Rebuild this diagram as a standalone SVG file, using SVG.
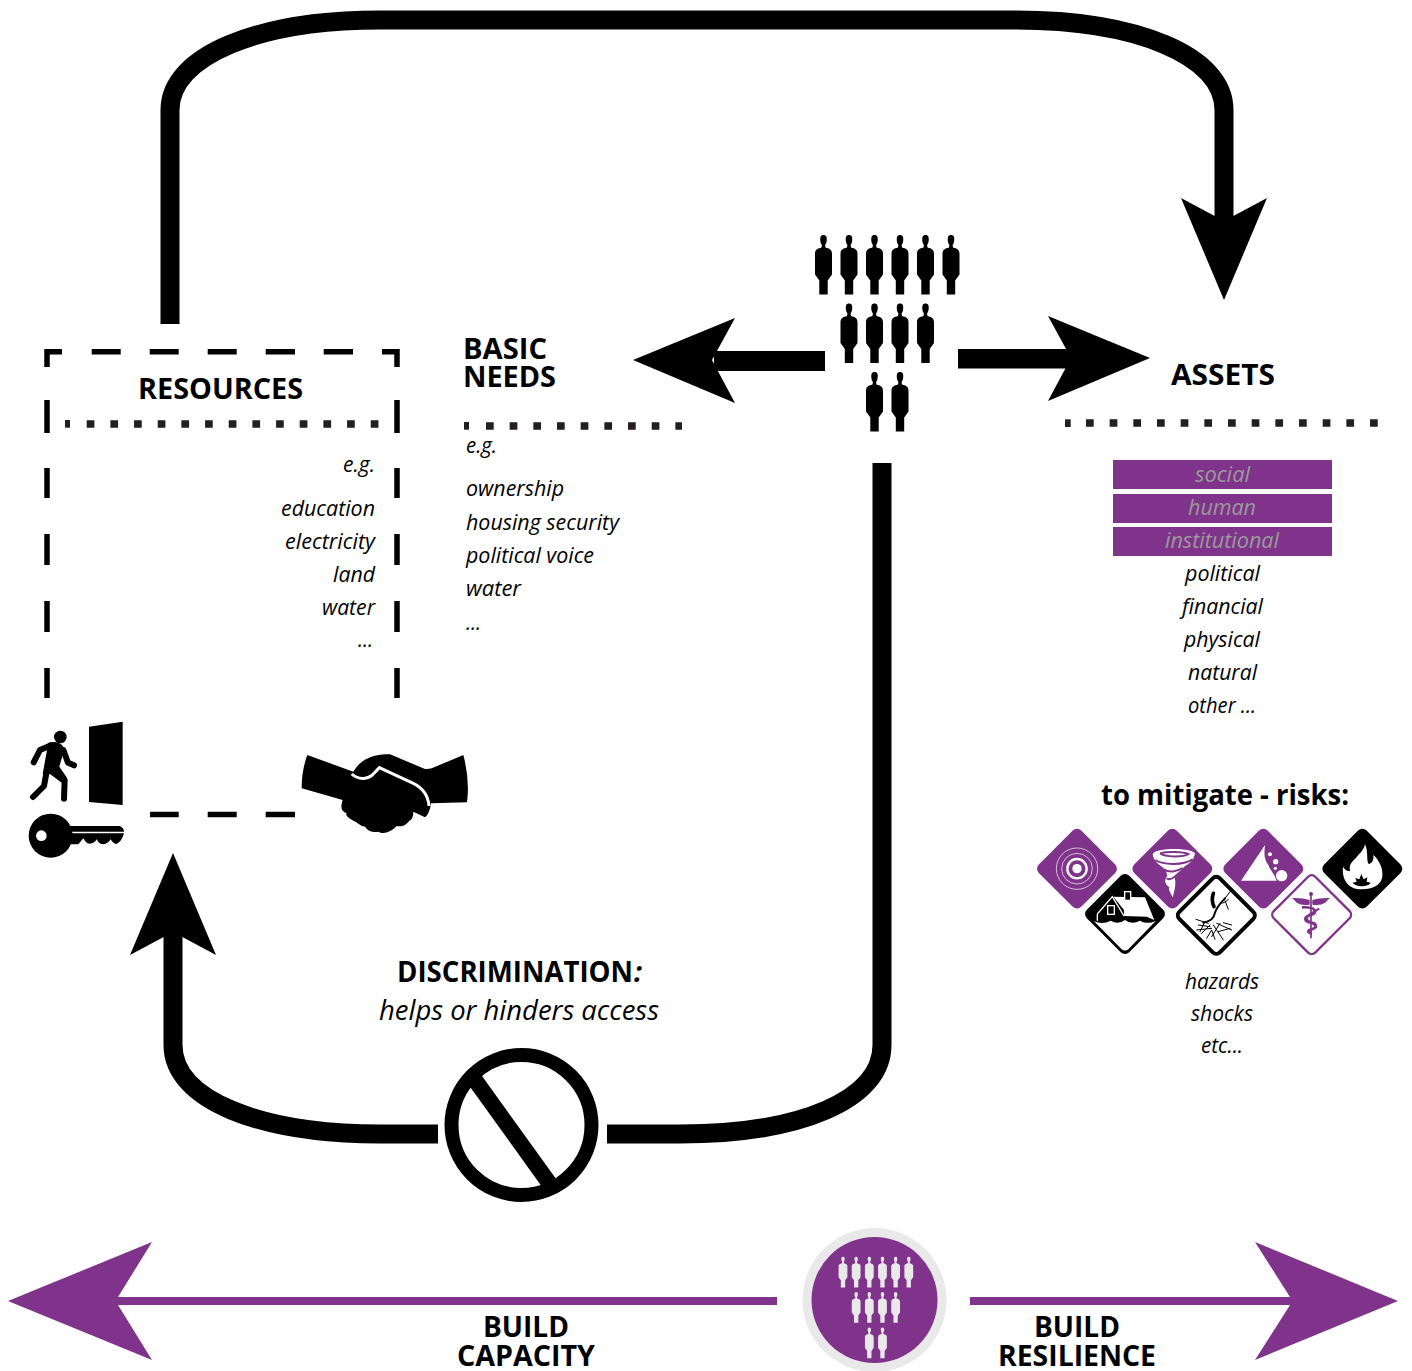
<svg xmlns="http://www.w3.org/2000/svg" width="1412" height="1371" viewBox="0 0 1412 1371">
<style>
text{font-family:"Open Sans","Liberation Sans",sans-serif;fill:#000}
.h{font-weight:700;font-size:28px}
.i{font-style:italic;font-size:21px}
.g{fill:#9a9a9a}
.big{font-weight:700;font-size:28px}
.conn{fill:none;stroke:#000;stroke-width:19}
.pconn{fill:#80338a;stroke:none}
.d{fill:none;stroke:#000;stroke-width:5.5}
.dot{fill:none;stroke:#231f20;stroke-width:7.7;stroke-dasharray:7.7 15.97}
</style>
<defs>
<path id="p" d="M-1.6,10.5 C-3.5,8 -3.6,4 -2.8,2 C-2,0 2,0 2.8,2 C3.6,4 3.5,8 1.6,10.5 L2,13 C6,14 8.3,15 8.5,19 L8.5,40 L4.2,46 L4.2,60 L-4.2,60 L-4.2,46 L-8.5,40 L-8.5,19 C-8.3,15 -6,14 -2,13 Z"/>
<g id="people">
<use href="#p" x="0" y="0"/><use href="#p" x="25.5" y="0"/><use href="#p" x="51" y="0"/><use href="#p" x="76.5" y="0"/><use href="#p" x="102" y="0"/><use href="#p" x="127.5" y="0"/>
<use href="#p" x="25.5" y="68.5"/><use href="#p" x="51" y="68.5"/><use href="#p" x="76.5" y="68.5"/><use href="#p" x="102" y="68.5"/>
<use href="#p" x="51" y="137"/><use href="#p" x="76.5" y="137"/>
</g>
</defs>
<rect width="1412" height="1371" fill="#fff"/>

<g id="connectors">
<path class="conn" d="M170,324 V110 C170,55 260,20 380,20 H1015 C1135,20 1224,55 1224,110 V225"/>
<polygon fill="#000" points="1181,198 1224,300 1267,198 1224,221"/>
<path class="conn" d="M882,463 V1045 C882,1100 800,1134 680,1134 H607"/>
<path class="conn" d="M438,1134 H380 C260,1134 173,1100 173,1045 V930"/>
<polygon fill="#000" points="130,955 173,853 216,955 173,932"/>
<rect x="714" y="351" width="111" height="20" fill="#000"/>
<polygon fill="#000" points="735,318 633,360 735,403 712,360"/>
<rect x="958" y="349" width="115" height="19.500" fill="#000"/>
<polygon fill="#000" points="1048,316 1150,358 1048,401 1071,358"/>
<polygon class="pconn" points="777,1297 118,1297 152,1242 8,1301 152,1360 118,1305 777,1305"/>
<polygon class="pconn" points="970,1297 1290,1297 1255,1242 1398,1301 1255,1360 1290,1305 970,1305"/>
</g>

<g id="resources">
<path class="d" d="M62,351.700 H47 V367"/>
<path class="d" d="M91.700,351.700 H120.700 M149.700,351.700 H178.700 M207.700,351.700 H236.700 M265.700,351.700 H295 M323.700,351.700 H353"/>
<path class="d" d="M382,351.700 H397 V367"/>
<path class="d" d="M47,400 V433 M47,468 V498 M47,534 V565 M47,601 V632 M47,668 V698"/>
<path class="d" d="M397,400 V433 M397,468 V498 M397,534 V565 M397,601 V632 M397,668 V698"/>
<path class="d" d="M150,814.500 H178.700 M207.700,814.500 H236.700 M265.700,814.500 H295"/>
<path fill="#231f20" d="M65,420 H70 V427.700 H65 Z"/>
<path class="dot" d="M86.700,424 H380"/>
<text class="h" x="138" y="399" textLength="165" lengthAdjust="spacingAndGlyphs">RESOURCES</text>
<text class="i" x="343" y="472" textLength="32" lengthAdjust="spacingAndGlyphs">e.g.</text>
<text class="i" x="281" y="516" textLength="94" lengthAdjust="spacingAndGlyphs">education</text>
<text class="i" x="285" y="549" textLength="90" lengthAdjust="spacingAndGlyphs">electricity</text>
<text class="i" x="333" y="582" textLength="42" lengthAdjust="spacingAndGlyphs">land</text>
<text class="i" x="322" y="615" textLength="53" lengthAdjust="spacingAndGlyphs">water</text>
<text class="i" x="358" y="647" textLength="15" lengthAdjust="spacingAndGlyphs">...</text>
</g>

<g id="access-icons" transform="translate(0,700) scale(0.33333)">
<polygon points="267,80 368,65 368,315 267,306" fill="#000"/>
<circle cx="181" cy="111" r="19" fill="#000"/>
<path fill="#000" d="M145,128 C165,122 188,128 193,148 L178,200 L200,232 L185,248 L150,222 L128,222 Z"/>
<path fill="none" stroke="#000" stroke-width="18" stroke-linecap="round" stroke-linejoin="round" d="M150,137 L120,150 L101,187 M190,150 L204,188 L222,196 M165,215 L194,240 L192,296 M140,215 L132,258 L99,291"/>
<circle cx="152" cy="407" r="66" fill="#000"/>
<circle cx="124" cy="407" r="16" fill="#fff"/>
<path fill="#000" d="M200,378 H360 Q372,385 372,395 H215 Z M205,400 H372 Q365,425 350,432 Q338,430 332,418 Q322,435 305,432 Q296,430 290,418 Q280,435 262,430 Q255,425 250,415 L235,433 L205,433 Z"/>
<path fill="#000" d="M922,165 L1060,215 C1080,180 1120,160 1170,163 L1275,207 Q1285,208 1295,205 L1390,165 Q1410,240 1401,307 L1293,310 C1290,330 1285,345 1275,352 L1240,335 C1240,350 1235,360 1228,362 C1215,380 1200,380 1190,378 C1175,395 1150,405 1135,395 C1120,398 1105,395 1095,380 C1080,378 1070,365 1060,362 C1045,355 1035,345 1040,340 C1025,335 1020,325 1028,300 L905,265 Q905,210 922,165 Z"/>
<path fill="none" stroke="#fff" stroke-width="9" d="M1055,222 C1075,240 1105,240 1122,220 L1138,203 L1240,250 C1270,265 1285,290 1287,318"/>
</g>

<g id="basic-needs">
<text class="h" x="463" y="359" textLength="84" lengthAdjust="spacingAndGlyphs">BASIC</text>
<text class="h" x="463" y="387" textLength="93" lengthAdjust="spacingAndGlyphs">NEEDS</text>
<path fill="#231f20" d="M464,422 H469 V429.700 H464 Z"/>
<path class="dot" d="M486,426 H682"/>
<text class="i" x="466" y="453" textLength="31" lengthAdjust="spacingAndGlyphs">e.g.</text>
<text class="i" x="466" y="496" textLength="98" lengthAdjust="spacingAndGlyphs">ownership</text>
<text class="i" x="466" y="530" textLength="153" lengthAdjust="spacingAndGlyphs">housing security</text>
<text class="i" x="466" y="563" textLength="128" lengthAdjust="spacingAndGlyphs">political voice</text>
<text class="i" x="466" y="596" textLength="55" lengthAdjust="spacingAndGlyphs">water</text>
<text class="i" x="466" y="630" textLength="15" lengthAdjust="spacingAndGlyphs">...</text>
</g>

<g id="population" fill="#000"><use href="#people" transform="translate(823.500,234.500)"/></g>

<g id="assets">
<text class="h" x="1171" y="385" textLength="104" lengthAdjust="spacingAndGlyphs">ASSETS</text>
<path fill="#231f20" d="M1065,419.300 H1070.700 V427 H1065 Z"/>
<path class="dot" d="M1086,423 H1380"/>
<rect x="1113" y="460" width="219" height="29" fill="#80338a"/>
<rect x="1113" y="494" width="219" height="29" fill="#80338a"/>
<rect x="1113" y="527" width="219" height="29" fill="#80338a"/>
<text class="i g" x="1195" y="482" textLength="55" lengthAdjust="spacingAndGlyphs">social</text>
<text class="i g" x="1188" y="515" textLength="68" lengthAdjust="spacingAndGlyphs">human</text>
<text class="i g" x="1165" y="548" textLength="114" lengthAdjust="spacingAndGlyphs">institutional</text>
<text class="i" x="1185" y="581" textLength="75" lengthAdjust="spacingAndGlyphs">political</text>
<text class="i" x="1182" y="614" textLength="81" lengthAdjust="spacingAndGlyphs">financial</text>
<text class="i" x="1184" y="647" textLength="76" lengthAdjust="spacingAndGlyphs">physical</text>
<text class="i" x="1188" y="680" textLength="69" lengthAdjust="spacingAndGlyphs">natural</text>
<text class="i" x="1188" y="713" textLength="68" lengthAdjust="spacingAndGlyphs">other ...</text>
<text class="big" x="1101" y="805" textLength="248" lengthAdjust="spacingAndGlyphs">to mitigate - risks:</text>
<text class="i" x="1185" y="989" textLength="74" lengthAdjust="spacingAndGlyphs">hazards</text>
<text class="i" x="1191" y="1021" textLength="62" lengthAdjust="spacingAndGlyphs">shocks</text>
<text class="i" x="1201" y="1053" textLength="42" lengthAdjust="spacingAndGlyphs">etc...</text>
</g>

<g id="risks" transform="translate(1020,810) scale(0.33333)">
<g id="earthquake">
<rect x="81" y="86" width="180" height="180" rx="18" transform="rotate(45 171 176)" fill="#80338a"/>
<circle cx="171" cy="176" r="14" fill="#fff"/>
<circle cx="171" cy="176" r="29" fill="none" stroke="#fff" stroke-width="7"/>
<circle cx="171" cy="176" r="46" fill="none" stroke="#fff" stroke-width="2"/>
<circle cx="171" cy="176" r="62" fill="none" stroke="#fff" stroke-width="2"/>
</g>
<g id="tornado">
<rect x="367" y="86" width="180" height="180" rx="18" transform="rotate(45 457 176)" fill="#80338a"/>
<path fill="#fff" d="M398,132 C405,112 515,112 525,130 C522,150 510,160 495,168 C485,180 470,190 462,198 C470,215 465,240 458,262 C452,250 445,240 448,232 C438,225 432,215 438,205 C445,195 440,185 428,172 C410,160 400,148 398,132 Z"/>
<path fill="none" stroke="#80338a" stroke-width="6" d="M420,130 C440,124 490,124 505,132 C490,142 435,142 420,130 M406,150 C430,166 490,166 518,148 M432,178 C445,188 470,186 488,174 M440,206 C450,210 458,206 464,200"/>
</g>
<g id="landslide">
<rect x="640" y="86" width="180" height="180" rx="18" transform="rotate(45 730 176)" fill="#80338a"/>
<path fill="#fff" d="M663,212 L735,105 C733,125 730,145 745,165 C750,180 762,190 770,212 Z"/>
<circle cx="750" cy="133" r="6" fill="#fff"/><circle cx="767" cy="155" r="8" fill="#fff"/><circle cx="766" cy="175" r="5" fill="#fff"/><circle cx="785" cy="197" r="17" fill="#fff"/>
</g>
<g id="fire">
<rect x="937" y="86" width="180" height="180" rx="18" transform="rotate(45 1027 176)" fill="#000"/>
<path fill="#fff" d="M1025,238 C985,238 965,210 969,170 C975,180 983,185 990,182 C985,158 1005,150 1015,135 C1025,125 1033,115 1035,103 C1046,125 1038,150 1046,162 C1056,160 1062,150 1060,135 C1078,150 1092,180 1086,205 C1080,225 1060,238 1025,238 Z"/>
<path fill="#000" d="M998,218 L1010,215 L1006,204 L1018,208 L1024,192 L1031,208 L1042,202 L1040,215 L1052,218 C1044,232 1006,232 998,218 Z"/>
</g>
<g id="flood">
<rect x="225" y="222" width="180" height="180" rx="18" transform="rotate(45 315 312)" fill="#000"/>
<path fill="#fff" d="M222,334 Q248,345 272,332 Q295,345 315,330 Q335,345 360,332 Q382,345 408,332 L325,418 Q315,425 305,418 Z"/>
<path fill="#fff" d="M280,260 L375,262 L403,330 L380,320 L312,318 L312,300 Z"/>
<path fill="none" stroke="#fff" stroke-width="4" d="M232,312 L277,260 L312,318 M232,312 V332"/>
<rect x="263" y="287" width="20" height="26" fill="none" stroke="#fff" stroke-width="4"/>
<rect x="314" y="245" width="18" height="26" fill="#000" stroke="#fff" stroke-width="4"/>
</g>
<g id="drought">
<rect x="503" y="230" width="172" height="172" rx="15" transform="rotate(45 589 316)" fill="#fff" stroke="#000" stroke-width="12"/>
<g fill="none" stroke="#000" stroke-linecap="round" transform="translate(450,180)">
<path stroke-width="6" d="M100,158 C120,155 132,145 135,128 C140,112 150,100 165,85"/>
<path stroke-width="3" d="M165,85 L180,65 M152,100 C160,100 170,95 175,88 M165,92 L175,118"/>
<path stroke-width="11" d="M130,70 C125,85 126,98 132,110"/>
<path stroke-width="3" d="M78,148 L115,160 M85,165 L120,170 M80,180 L125,175 M95,190 L120,165 M110,205 L125,180 L135,208 M130,165 L160,210 M140,160 L185,180 M150,160 L125,200 M145,185 L180,175 M160,158 L185,165 M105,155 L90,185"/>
</g>
</g>
<g id="medical" transform="translate(738,180)">
<rect x="49" y="46" width="176" height="176" rx="15" transform="rotate(45 137 134)" fill="#fff" stroke="#80338a" stroke-width="7"/>
<path fill="#80338a" d="M78,84 Q110,83 131,90 L131,104 Q108,108 92,98 Q86,90 78,84 Z M192,84 Q160,83 139,90 L139,104 Q162,108 178,98 Q184,90 192,84 Z"/>
<circle cx="135" cy="72" r="6" fill="#80338a"/>
<path fill="none" stroke="#80338a" stroke-width="5" d="M135,72 V205"/>
<path fill="none" stroke="#80338a" stroke-width="8" d="M108,112 C150,110 158,128 135,135 C112,140 112,155 135,158 C155,160 152,175 135,178 C125,181 128,190 138,192"/>
<path fill="none" stroke="#80338a" stroke-width="6" d="M160,116 C145,125 120,135 122,148 C135,160 152,165 150,172 C140,180 122,178 126,188"/>
</g>
</g>

<g id="discrimination">
<text class="big" x="397" y="982" textLength="236" lengthAdjust="spacingAndGlyphs">DISCRIMINATION</text>
<text class="big" x="634" y="982" font-style="italic" textLength="8" lengthAdjust="spacingAndGlyphs">:</text>
<text class="i" x="379" y="1020" style="font-size:28px" textLength="280" lengthAdjust="spacingAndGlyphs">helps or hinders access</text>
</g>

<g id="prohibit">
<circle cx="521.500" cy="1125" r="70" fill="#fff" stroke="#000" stroke-width="14"/>
<path fill="none" stroke="#000" stroke-width="16" d="M470,1073 L552,1187"/>
</g>

<g id="community">
<circle cx="874.500" cy="1300" r="72" fill="#e9e9e9"/>
<circle cx="874.500" cy="1300" r="63" fill="#80338a"/>
<g fill="#e9e9e9"><use href="#people" transform="translate(843,1256.500) scale(0.516)"/></g>
</g>

<g id="build-capacity">
<text class="h" x="483" y="1337" textLength="86" lengthAdjust="spacingAndGlyphs">BUILD</text>
<text class="h" x="457" y="1366" textLength="138" lengthAdjust="spacingAndGlyphs">CAPACITY</text>
</g>
<g id="build-resilience">
<text class="h" x="1034" y="1337" textLength="86" lengthAdjust="spacingAndGlyphs">BUILD</text>
<text class="h" x="998" y="1366" textLength="158" lengthAdjust="spacingAndGlyphs">RESILIENCE</text>
</g>
</svg>
